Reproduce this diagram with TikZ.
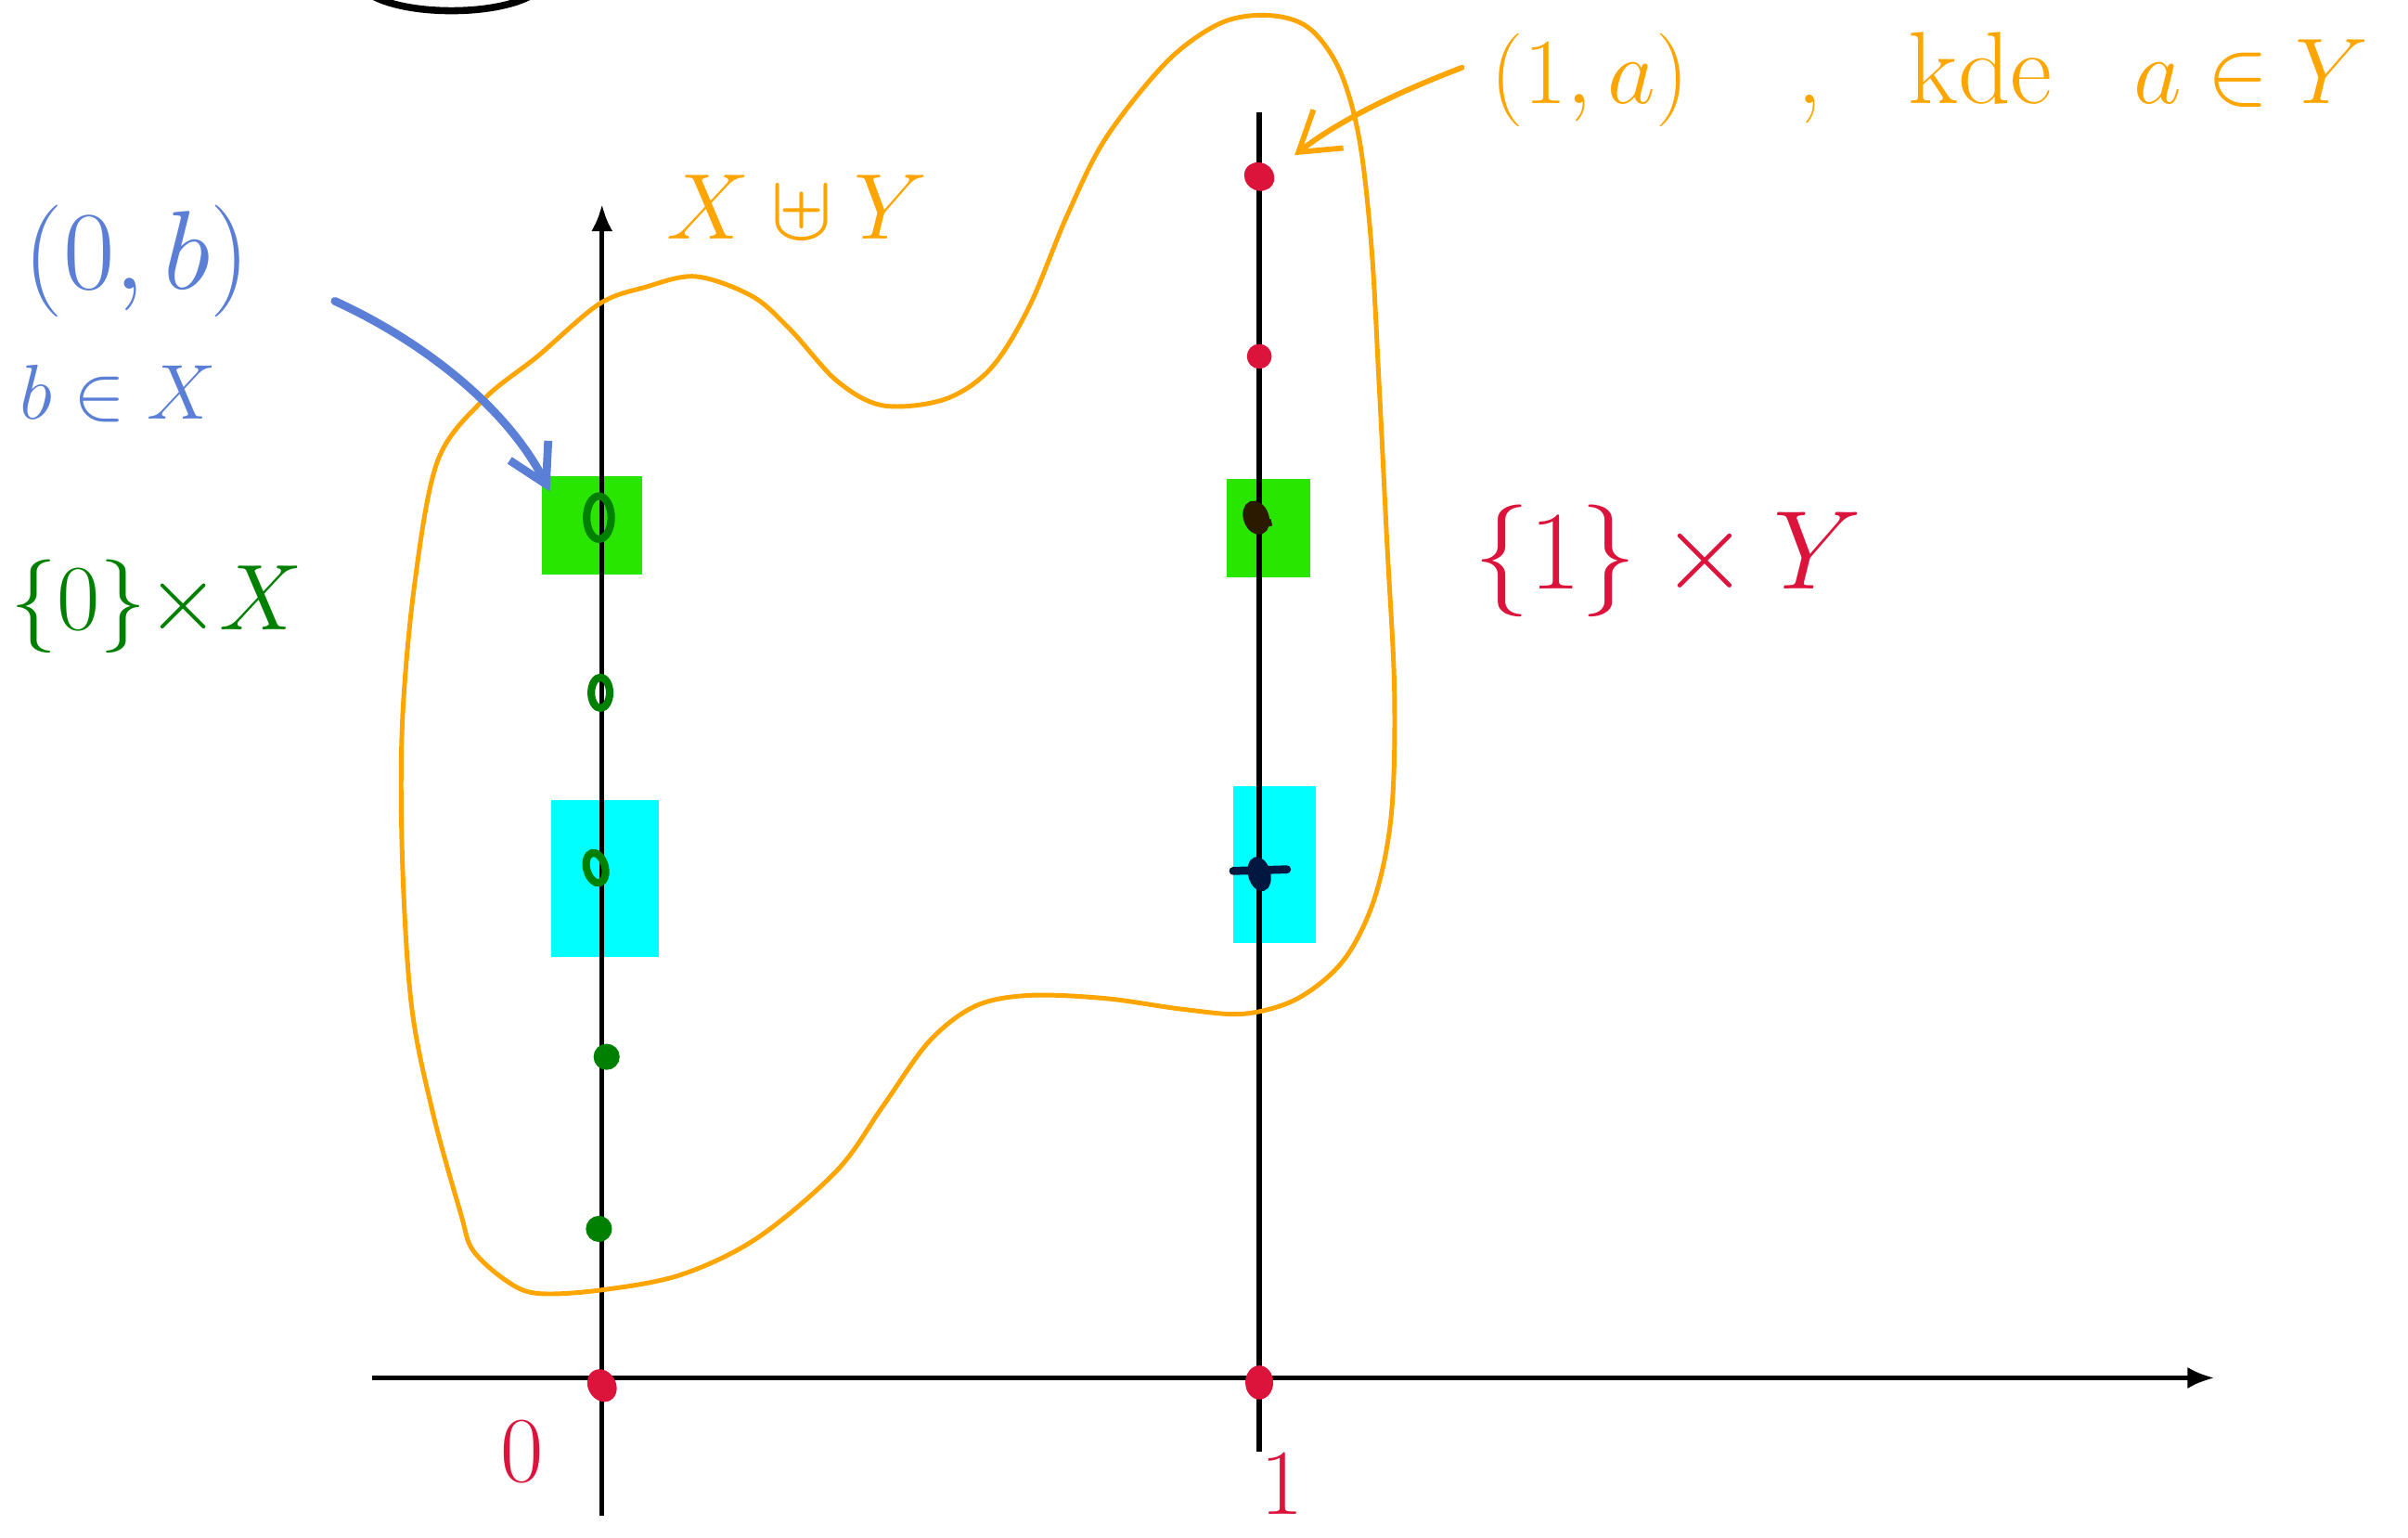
\documentclass[tikz,border=0pt]{standalone}
\usepackage{amssymb}
\usetikzlibrary{arrows.meta}
\definecolor{horange}{RGB}{255,165,0}
\definecolor{hblue}{RGB}{91,127,214}
\definecolor{hgreen}{RGB}{0,128,0}
\definecolor{hred}{RGB}{220,20,60}
\definecolor{hbright}{RGB}{40,230,0}
\definecolor{hcyan}{RGB}{0,255,255}
\definecolor{hbrown}{RGB}{43,26,0}
\definecolor{hnavy}{RGB}{0,24,64}
\tikzset{
  axis/.style={line width=0.9pt, black},
  axisarrow/.style={axis, -{Latex[length=5pt,width=4pt]}},
  blob/.style={line width=0.85pt, horange},
  lbl/.style={inner sep=0pt, font=\fontsize{20}{24}\selectfont},
  ringdot/.style={line width=1.4pt, hgreen},
  reddot/.style={fill=hred, draw=hred, line width=0.6pt},
}
\begin{document}
\begin{tikzpicture}[x=0.01cm, y=-0.01cm]
\useasboundingbox (0,0) rectangle (1568,1001);
% top black arc (cut off)
\begin{scope}
\clip (0,0) rectangle (1568,1001);
\draw[line width=1.3pt] (294,-13) ellipse [x radius=60, y radius=20];
\end{scope}
% coloured patches
\fill[hbright] (353,310) rectangle (418,374);
\fill[hbright] (799,312) rectangle (853,376);
\fill[hcyan] (359,521) rectangle (429,623);
\fill[hcyan] (803,512) rectangle (857,614);
% axes
\coordinate (hx0) at (242,897);
\coordinate (hx1) at (1442,897);
\coordinate (v0b) at (392,987);
\coordinate (v0t) at (392,133);
\coordinate (v1b) at (820,945);
\coordinate (v1t) at (820,73);
\draw[axisarrow] (hx0) -- (hx1);
\draw[axisarrow] (v0b) -- (v0t);
\draw[axis] (v1b) -- (v1t);
% orange blob
\draw[blob] plot[smooth cycle, tension=0.55] coordinates {
 (453,180) (490,193) (515,215) (545,248) (575,264) (615,260) (645,240)
 (670,200) (695,140) (720,90) (760,40) (795,15) (826,10) (852,18)
 (872,45) (885,90) (893,160) (898,250) (903,350) (908,450) (906,530)
 (895,585) (875,625) (845,650) (810,660) (770,657) (720,650) (670,648)
 (635,655) (605,678) (575,720) (545,762) (493,806) (443,830) (390,840)
 (350,842) (330,834) (308,814) (300,790) (282,725) (268,655) (262,560)
 (262,470) (270,380) (285,300) (315,260) (350,232) (390,198) (420,187)};
% dots
\coordinate (p0) at (392,902);
\coordinate (p1) at (820,900);
\coordinate (q1) at (820,115);
\coordinate (q2) at (820,232);
\coordinate (g1) at (390,337);
\coordinate (g2) at (391,451);
\coordinate (g3) at (388,565);
\coordinate (g4) at (395,688);
\coordinate (g5) at (390,800);
\coordinate (b1) at (818,337);
\coordinate (n1) at (820,569);
\draw[reddot] (p0) ellipse [x radius=8, y radius=10, rotate=30];
\draw[reddot] (p1) ellipse [x radius=8, y radius=10];
\draw[reddot] (q1) ellipse [x radius=9, y radius=8, rotate=-30];
\draw[reddot] (q2) ellipse [x radius=7, y radius=7];
\draw[ringdot] (g1) ellipse [x radius=8, y radius=14];
\draw[ringdot] (g2) ellipse [x radius=6, y radius=10];
\draw[ringdot] (g3) ellipse [x radius=6, y radius=10, rotate=15];
\draw[ringdot, fill=hgreen] (g4) ellipse [x radius=6, y radius=6];
\draw[ringdot, fill=hgreen] (g5) ellipse [x radius=6, y radius=6];
\draw[line width=1.3pt, hbrown, fill=hbrown] (b1) ellipse [x radius=6, y radius=9, rotate=20];
\draw[line width=1.3pt, hbrown] (b1) ++(-2,6) -- ++(12,-3);
\draw[line width=1.5pt, hnavy, line cap=round] (803,567) -- (838,566);
\draw[line width=1.3pt, hnavy, fill=hnavy] (n1) ellipse [x radius=5, y radius=9, rotate=15];
% labels
\node[lbl, text=hblue, font=\fontsize{21}{24}\selectfont] (tob) at (89,170) {$(0,b)$};
\node[lbl, text=hblue, font=\fontsize{15}{18}\selectfont, anchor=west] (tbx) at (12,256) {$b\in X$};
\node[lbl, text=hgreen, font=\fontsize{18}{22}\selectfont] (t0x) at (102,395) {$\{0\}{\times}X$};
\node[lbl, text=hred] (t1y) at (1086,365) {$\{1\}\times Y$};
\node[lbl, text=horange, font=\fontsize{17}{20}\selectfont] (txy) at (519,135) {$X\uplus Y$};
\node[lbl, text=horange, anchor=west, font=\fontsize{19}{22}\selectfont] (t1a) at (970,52) {$(1,a)$\hspace{20pt},\hspace{16pt}kde\hspace{15pt}$a\in Y$};
\node[lbl, text=hred, font=\fontsize{18}{20}\selectfont] (t0) at (340,945) {$0$};
\node[lbl, text=hred, font=\fontsize{18}{20}\selectfont] (t1) at (835,966) {$1$};
% arrows
\coordinate (bs) at (218,196);
\coordinate (be) at (358,320);
\draw[hblue, line width=1.5pt, line cap=round, -{Straight Barb[length=7pt,width=8pt]}]
  (bs) .. controls (275,222) and (330,265) .. (be);
\coordinate (os) at (952,44);
\coordinate (oe) at (843,101);
\draw[horange, line width=1pt, line cap=round, -{Straight Barb[length=7pt,width=9pt]}]
  (os) .. controls (905,62) and (870,80) .. (oe);
\end{tikzpicture}
\end{document}
